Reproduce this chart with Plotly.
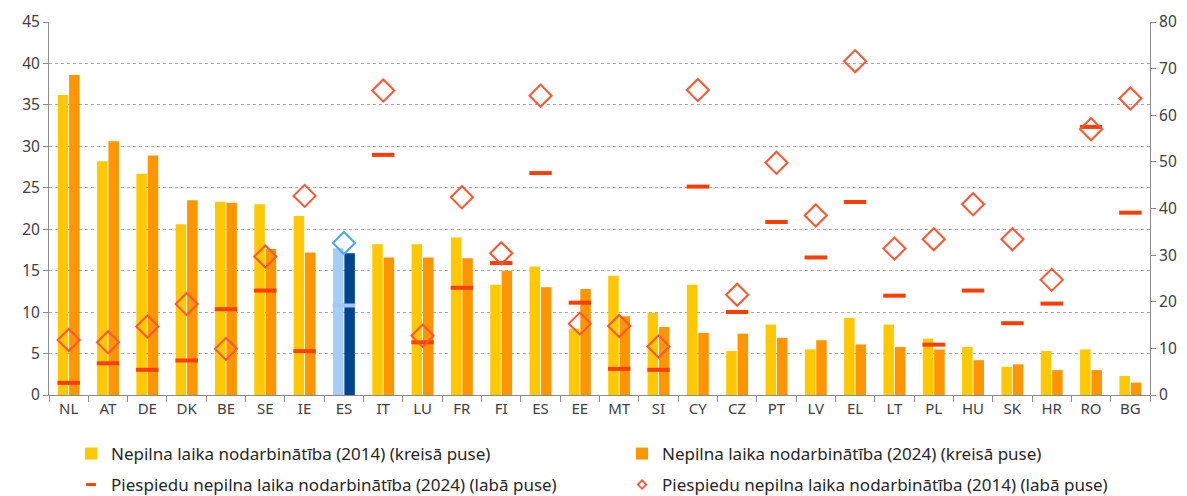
import plotly.graph_objects as go

# Country codes in display order (first "ES" column is highlighted in blue)
countries = ["NL", "AT", "DE", "DK", "BE", "SE", "IE", "ES", "IT", "LU", "FR", "FI", "ES", "EE",
             "MT", "SI", "CY", "CZ", "PT", "LV", "EL", "LT", "PL", "HU", "SK", "HR", "RO", "BG"]

# Part-time employment, % (left axis)
part_time_2014 = [36.2, 28.2, 26.7, 20.6, 23.3, 23.0, 21.6, 17.7, 18.2, 18.2, 19.0, 13.3, 15.5, 8.0,
                  14.4, 9.9, 13.3, 5.3, 8.5, 5.5, 9.3, 8.5, 6.8, 5.8, 3.4, 5.3, 5.5, 2.3]
part_time_2024 = [38.6, 30.6, 28.9, 23.5, 23.2, 17.6, 17.2, 17.1, 16.6, 16.6, 16.5, 15.0, 13.0, 12.8,
                  9.5, 8.2, 7.5, 7.4, 6.9, 6.6, 6.1, 5.8, 5.5, 4.2, 3.7, 3.0, 3.0, 1.5]

# Involuntary part-time employment, % (right axis)
involuntary_2024 = [2.6, 6.8, 5.4, 7.4, 18.4, 22.4, 9.4, 19.2, 51.5, 11.3, 23.0, 28.3, 47.6, 19.8,
                    5.6, 5.4, 44.7, 17.8, 37.1, 29.5, 41.4, 21.3, 10.8, 22.4, 15.4, 19.6, 57.5, 39.1]
involuntary_2014 = [11.8, 11.3, 14.7, 19.5, 9.9, 29.7, 42.7, 32.6, 65.3, 12.7, 42.4, 30.4, 64.2, 15.3,
                    14.8, 10.4, 65.4, 21.5, 49.8, 38.5, 71.6, 31.4, 33.4, 40.9, 33.4, 24.7, 57.0, 63.6]

highlight_index = 7

YELLOW = "#FFC800"
ORANGE = "#FF9500"
RED_DASH = "#FF3D00"
RED_DIAMOND = "#FF5530"
LIGHT_BLUE = "#A6CDFA"
DARK_BLUE = "#00438F"
BLUE_DIAMOND = "#4AA6F2"
BLUE_DASH = "#A0C8F0"
AXIS_GREY = "#8C8C8C"
TEXT = "#404040"
FONT = "Noto Sans"

NAME_PT_2014 = "Nepilna laika nodarbinātība (2014) (kreisā puse)"
NAME_PT_2024 = "Nepilna laika nodarbinātība (2024) (kreisā puse)"
NAME_INV_2024 = "Piespiedu nepilna laika nodarbinātība (2024) (labā puse)"
NAME_INV_2014 = "Piespiedu nepilna laika nodarbinātība (2014) (labā puse)"


def colours(base, special):
    return [special if i == highlight_index else base for i in range(len(countries))]


x = list(range(len(countries)))

fig = go.Figure()

fig.add_trace(go.Bar(
    x=x, y=part_time_2014, name=NAME_PT_2014,
    marker=dict(color=colours(YELLOW, LIGHT_BLUE), line=dict(width=0)),
    legend="legend",
))
fig.add_trace(go.Bar(
    x=x, y=part_time_2024, name=NAME_PT_2024,
    marker=dict(color=colours(ORANGE, DARK_BLUE), line=dict(width=0)),
    legend="legend",
))
fig.add_trace(go.Scatter(
    x=x, y=involuntary_2024, yaxis="y2", mode="markers", name=NAME_INV_2024,
    marker=dict(symbol="line-ew", size=16,
                line=dict(color=colours(RED_DASH, BLUE_DASH), width=4)),
    showlegend=False,
))
fig.add_trace(go.Scatter(
    x=x, y=involuntary_2014, yaxis="y2", mode="markers", name=NAME_INV_2014,
    marker=dict(symbol="diamond-open", size=17, color=colours(RED_DIAMOND, BLUE_DIAMOND),
                line=dict(color=colours(RED_DIAMOND, BLUE_DIAMOND), width=2)),
    showlegend=False,
))

# Legend keys for the marker series, drawn with smaller symbols
fig.add_trace(go.Scatter(
    x=[None], y=[None], yaxis="y2", mode="markers", name=NAME_INV_2024,
    marker=dict(symbol="line-ew", size=7, line=dict(color=RED_DASH, width=3)),
    legend="legend2", hoverinfo="skip",
))
fig.add_trace(go.Scatter(
    x=[None], y=[None], yaxis="y2", mode="markers", name=NAME_INV_2014,
    marker=dict(symbol="diamond-open", size=6.5, color=RED_DIAMOND,
                line=dict(color=RED_DIAMOND, width=1.8)),
    legend="legend2", hoverinfo="skip",
))

boundaries = [i - 0.5 for i in range(len(countries) + 1)]

legend_common = dict(
    orientation="h",
    font=dict(family=FONT, size=17, color="#262626"),
    entrywidth=506, entrywidthmode="pixels",
    bgcolor="rgba(0,0,0,0)",
    itemsizing="trace",
    xanchor="left", yanchor="middle",
    x=0.02,
)

fig.update_layout(
    width=1187, height=496,
    margin=dict(l=49, r=37, t=22, b=101, autoexpand=False),
    paper_bgcolor="white", plot_bgcolor="white",
    barmode="group", bargap=0.42, bargroupgap=0.08,
    font=dict(family=FONT, size=15, color=TEXT),
    xaxis=dict(
        range=[-0.5, len(countries) - 0.5],
        tickmode="array", tickvals=x, ticktext=countries,
        ticks="", showgrid=False, zeroline=False,
        showline=True, linecolor=AXIS_GREY, linewidth=1,
        tickfont=dict(family=FONT, size=15, color=TEXT),
        minor=dict(tickmode="array", tickvals=boundaries, ticks="outside",
                   ticklen=6, tickcolor=AXIS_GREY, tickwidth=1, showgrid=False),
    ),
    yaxis=dict(
        range=[0, 45], dtick=5, tick0=0,
        showgrid=True, gridcolor="#A8A8A8", griddash="dot", gridwidth=1,
        zeroline=False, showline=True, linecolor=AXIS_GREY, linewidth=1,
        ticks="outside", ticklen=5, tickcolor=AXIS_GREY,
        tickfont=dict(family=FONT, size=15.5, color=TEXT),
    ),
    yaxis2=dict(
        range=[0, 80], dtick=10, tick0=0, overlaying="y", side="right",
        showgrid=False, zeroline=False, showline=True, linecolor=AXIS_GREY, linewidth=1,
        ticks="outside", ticklen=5, tickcolor=AXIS_GREY,
        tickfont=dict(family=FONT, size=15.5, color=TEXT),
    ),
    legend=dict(legend_common, y=(395 - 454) / 373),
    legend2=dict(legend_common, y=(395 - 485) / 373),
    showlegend=True,
)

fig.write_html("out.html")
